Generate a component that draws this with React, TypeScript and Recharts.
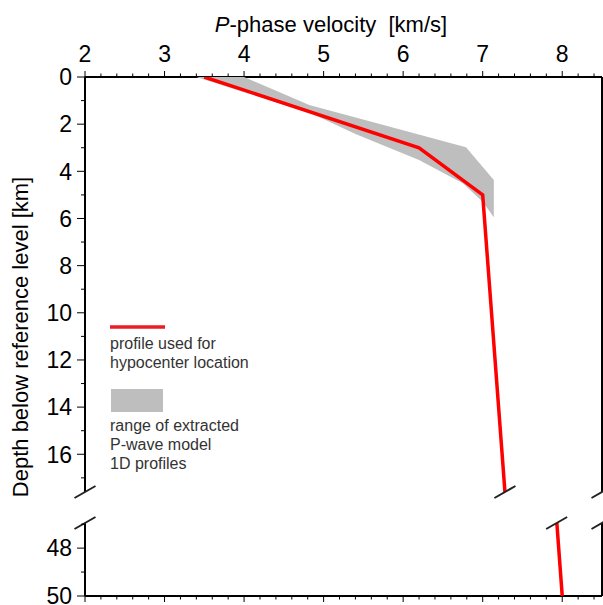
import React from 'react'
import { ScatterChart, Scatter, XAxis, YAxis, ReferenceDot } from 'recharts'

const FONT = '"Liberation Sans", Arial, Helvetica, sans-serif'

// axis ticks
const velocityTicks = [2, 3, 4, 5, 6, 7, 8]
const velocityMinorTicks = Array.from({ length: 33 }, (_, i) => (20 + 2 * i) / 10)
const upperDepthTicks = [0, 1, 2, 3, 4, 5, 6, 7, 8, 9, 10, 11, 12, 13, 14, 15, 16, 17]
const upperDepthLabels = [0, 2, 4, 6, 8, 10, 12, 14, 16]
const lowerDepthTicks = [47, 48, 49, 50]
const lowerDepthLabels = [48, 50]

// red profile used for hypocenter location
const profileVelocity = [3.5, 6.2, 7.0, 8.0]
const profileDepth = [0, 3, 5, 50]

// grey band outline: slow edge going down, fast edge coming back up
const bandVelocity = [3.4, 4.85, 5.4, 6.2, 6.75, 7.0, 7.14, 7.14, 6.79, 4.82, 4.0]
const bandDepth = [0, 1.55, 2.42, 3.52, 4.51, 5.29, 5.95, 4.37, 2.98, 1.19, 0]

// axis break
const upperDomain: [number, number] = [0, 17.6]
const lowerDomain: [number, number] = [46.95, 50]
const upperBreakVelocities = [2, 7.28, 8.5]
const lowerBreakVelocities = [2, 7.93, 8.5]

const profileData = profileVelocity.map((v, i) => ({ v, d: profileDepth[i] }))
const bandData = bandVelocity.map((v, i) => ({ v, d: bandDepth[i] }))

const isMajor = (v: number, majors: number[]) => majors.some(m => Math.abs(m - v) < 1e-6)

function TopTick(props: any) {
  const { x, y, payload } = props
  const major = isMajor(payload.value, velocityTicks)
  return (
    <g>
      <line x1={x} x2={x} y1={y} y2={y - (major ? 6 : 3.5)} stroke="#000" strokeWidth={1} />
      {major && (
        <text x={x} y={y - 15} textAnchor="middle" fontSize={23} fontFamily={FONT} fill="#000">
          {payload.value}
        </text>
      )}
    </g>
  )
}

function BottomTick(props: any) {
  const { x, y, payload } = props
  const major = isMajor(payload.value, velocityTicks)
  return <line x1={x} x2={x} y1={y} y2={y + (major ? 6 : 3.5)} stroke="#000" strokeWidth={1} />
}

const makeLeftTick = (labels: number[]) => (props: any) => {
  const { x, y, payload } = props
  const major = isMajor(payload.value, labels)
  return (
    <g>
      <line x1={x - (major ? 8 : 4)} x2={x} y1={y} y2={y} stroke="#000" strokeWidth={1} />
      {major && (
        <text x={x - 13} y={y} dy="0.36em" textAnchor="end" fontSize={23} fontFamily={FONT} fill="#000">
          {payload.value}
        </text>
      )}
    </g>
  )
}

const Slash = (props: any) => (
  <line x1={props.cx - 10.5} y1={props.cy + 6} x2={props.cx + 10.5} y2={props.cy - 6} stroke="#222" strokeWidth={2} />
)

function BandFill(props: any) {
  const pts = (props.points || []).map((p: any) => `${p.x},${p.y}`).join(' ')
  return <polygon points={pts} fill="#bebebe" stroke="none" />
}

const NoDot = () => <g />

function Panel({ domain, depthTicks, depthLabels, breakVelocities, breakDepth, top }: any) {
  const isUpper = top
  return (
    <ScatterChart
      width={603}
      height={isUpper ? 510 : 100}
      margin={isUpper ? { top: 0, right: 0, bottom: 18, left: 0 } : { top: 18, right: 0, bottom: 0, left: 0 }}
    >
      <XAxis
        type="number"
        dataKey="v"
        domain={[2, 8.5]}
        allowDataOverflow
        orientation={isUpper ? 'top' : 'bottom'}
        height={isUpper ? 77 : 9}
        ticks={velocityMinorTicks}
        interval={0}
        tickSize={0}
        tickMargin={0}
        tickLine={false}
        tick={isUpper ? <TopTick /> : <BottomTick />}
        axisLine={{ stroke: '#000', strokeWidth: 2 }}
      />
      <YAxis
        type="number"
        dataKey="d"
        domain={domain}
        reversed
        allowDataOverflow
        width={85}
        ticks={depthTicks}
        interval={0}
        tickSize={0}
        tickMargin={0}
        tickLine={false}
        tick={makeLeftTick(depthLabels)}
        axisLine={{ stroke: '#000', strokeWidth: 2 }}
      />
      <YAxis
        yAxisId="r"
        type="number"
        orientation="right"
        domain={domain}
        reversed
        allowDataOverflow
        width={1}
        tick={false}
        tickLine={false}
        axisLine={{ stroke: '#000', strokeWidth: 2 }}
      />
      <Scatter
        data={bandData}
        line={<BandFill />}
        lineType="joint"
        shape={NoDot}
        fill="#bebebe"
        isAnimationActive={false}
      />
      <Scatter
        data={profileData}
        line={{ stroke: '#ff0000', strokeWidth: 3.5 }}
        lineType="joint"
        shape={NoDot}
        fill="#ff0000"
        isAnimationActive={false}
      />
      {breakVelocities.map((v: number) => (
        <ReferenceDot key={v} x={v} y={breakDepth} ifOverflow="visible" shape={Slash} />
      ))}
    </ScatterChart>
  )
}

export default function App() {
  const textStyle = { fontFamily: FONT }
  return (
    <div style={{ position: 'absolute', left: 0, top: 0, width: 603, height: 605, background: '#fff', overflow: 'hidden' }}>
      <div style={{ position: 'absolute', left: 0, top: 0 }}>
        <Panel
          top
          domain={upperDomain}
          depthTicks={upperDepthTicks}
          depthLabels={upperDepthLabels}
          breakVelocities={upperBreakVelocities}
          breakDepth={upperDomain[1]}
        />
      </div>
      <div style={{ position: 'absolute', left: 0, top: 505 }}>
        <Panel
          top={false}
          domain={lowerDomain}
          depthTicks={lowerDepthTicks}
          depthLabels={lowerDepthLabels}
          breakVelocities={lowerBreakVelocities}
          breakDepth={lowerDomain[0]}
        />
      </div>
      <svg width={603} height={605} style={{ position: 'absolute', left: 0, top: 0, pointerEvents: 'none' }}>
        <text x={331} y={32} textAnchor="middle" fontSize={22} style={{ ...textStyle, whiteSpace: 'pre' }} fill="#000">
          <tspan fontStyle="italic">P</tspan>
          <tspan>-phase velocity  [km/s]</tspan>
        </text>
        <text
          x={0}
          y={0}
          transform="translate(28,337) rotate(-90)"
          textAnchor="middle"
          fontSize={22}
          style={textStyle}
          fill="#000"
        >
          Depth below reference level [km]
        </text>
        <line x1={110} x2={165} y1={327} y2={327} stroke="#ec1c24" strokeWidth={3.5} />
        <text x={110} fontSize={16} style={textStyle} fill="#333">
          <tspan x={110} y={349}>profile used for</tspan>
          <tspan x={110} y={368}>hypocenter location</tspan>
        </text>
        <rect x={111} y={389} width={52} height={23} fill="#bebebe" />
        <text x={110} fontSize={16} style={textStyle} fill="#333">
          <tspan x={110} y={431}>range of extracted</tspan>
          <tspan x={110} y={450}>P-wave model</tspan>
          <tspan x={110} y={469}>1D profiles</tspan>
        </text>
      </svg>
    </div>
  )
}
